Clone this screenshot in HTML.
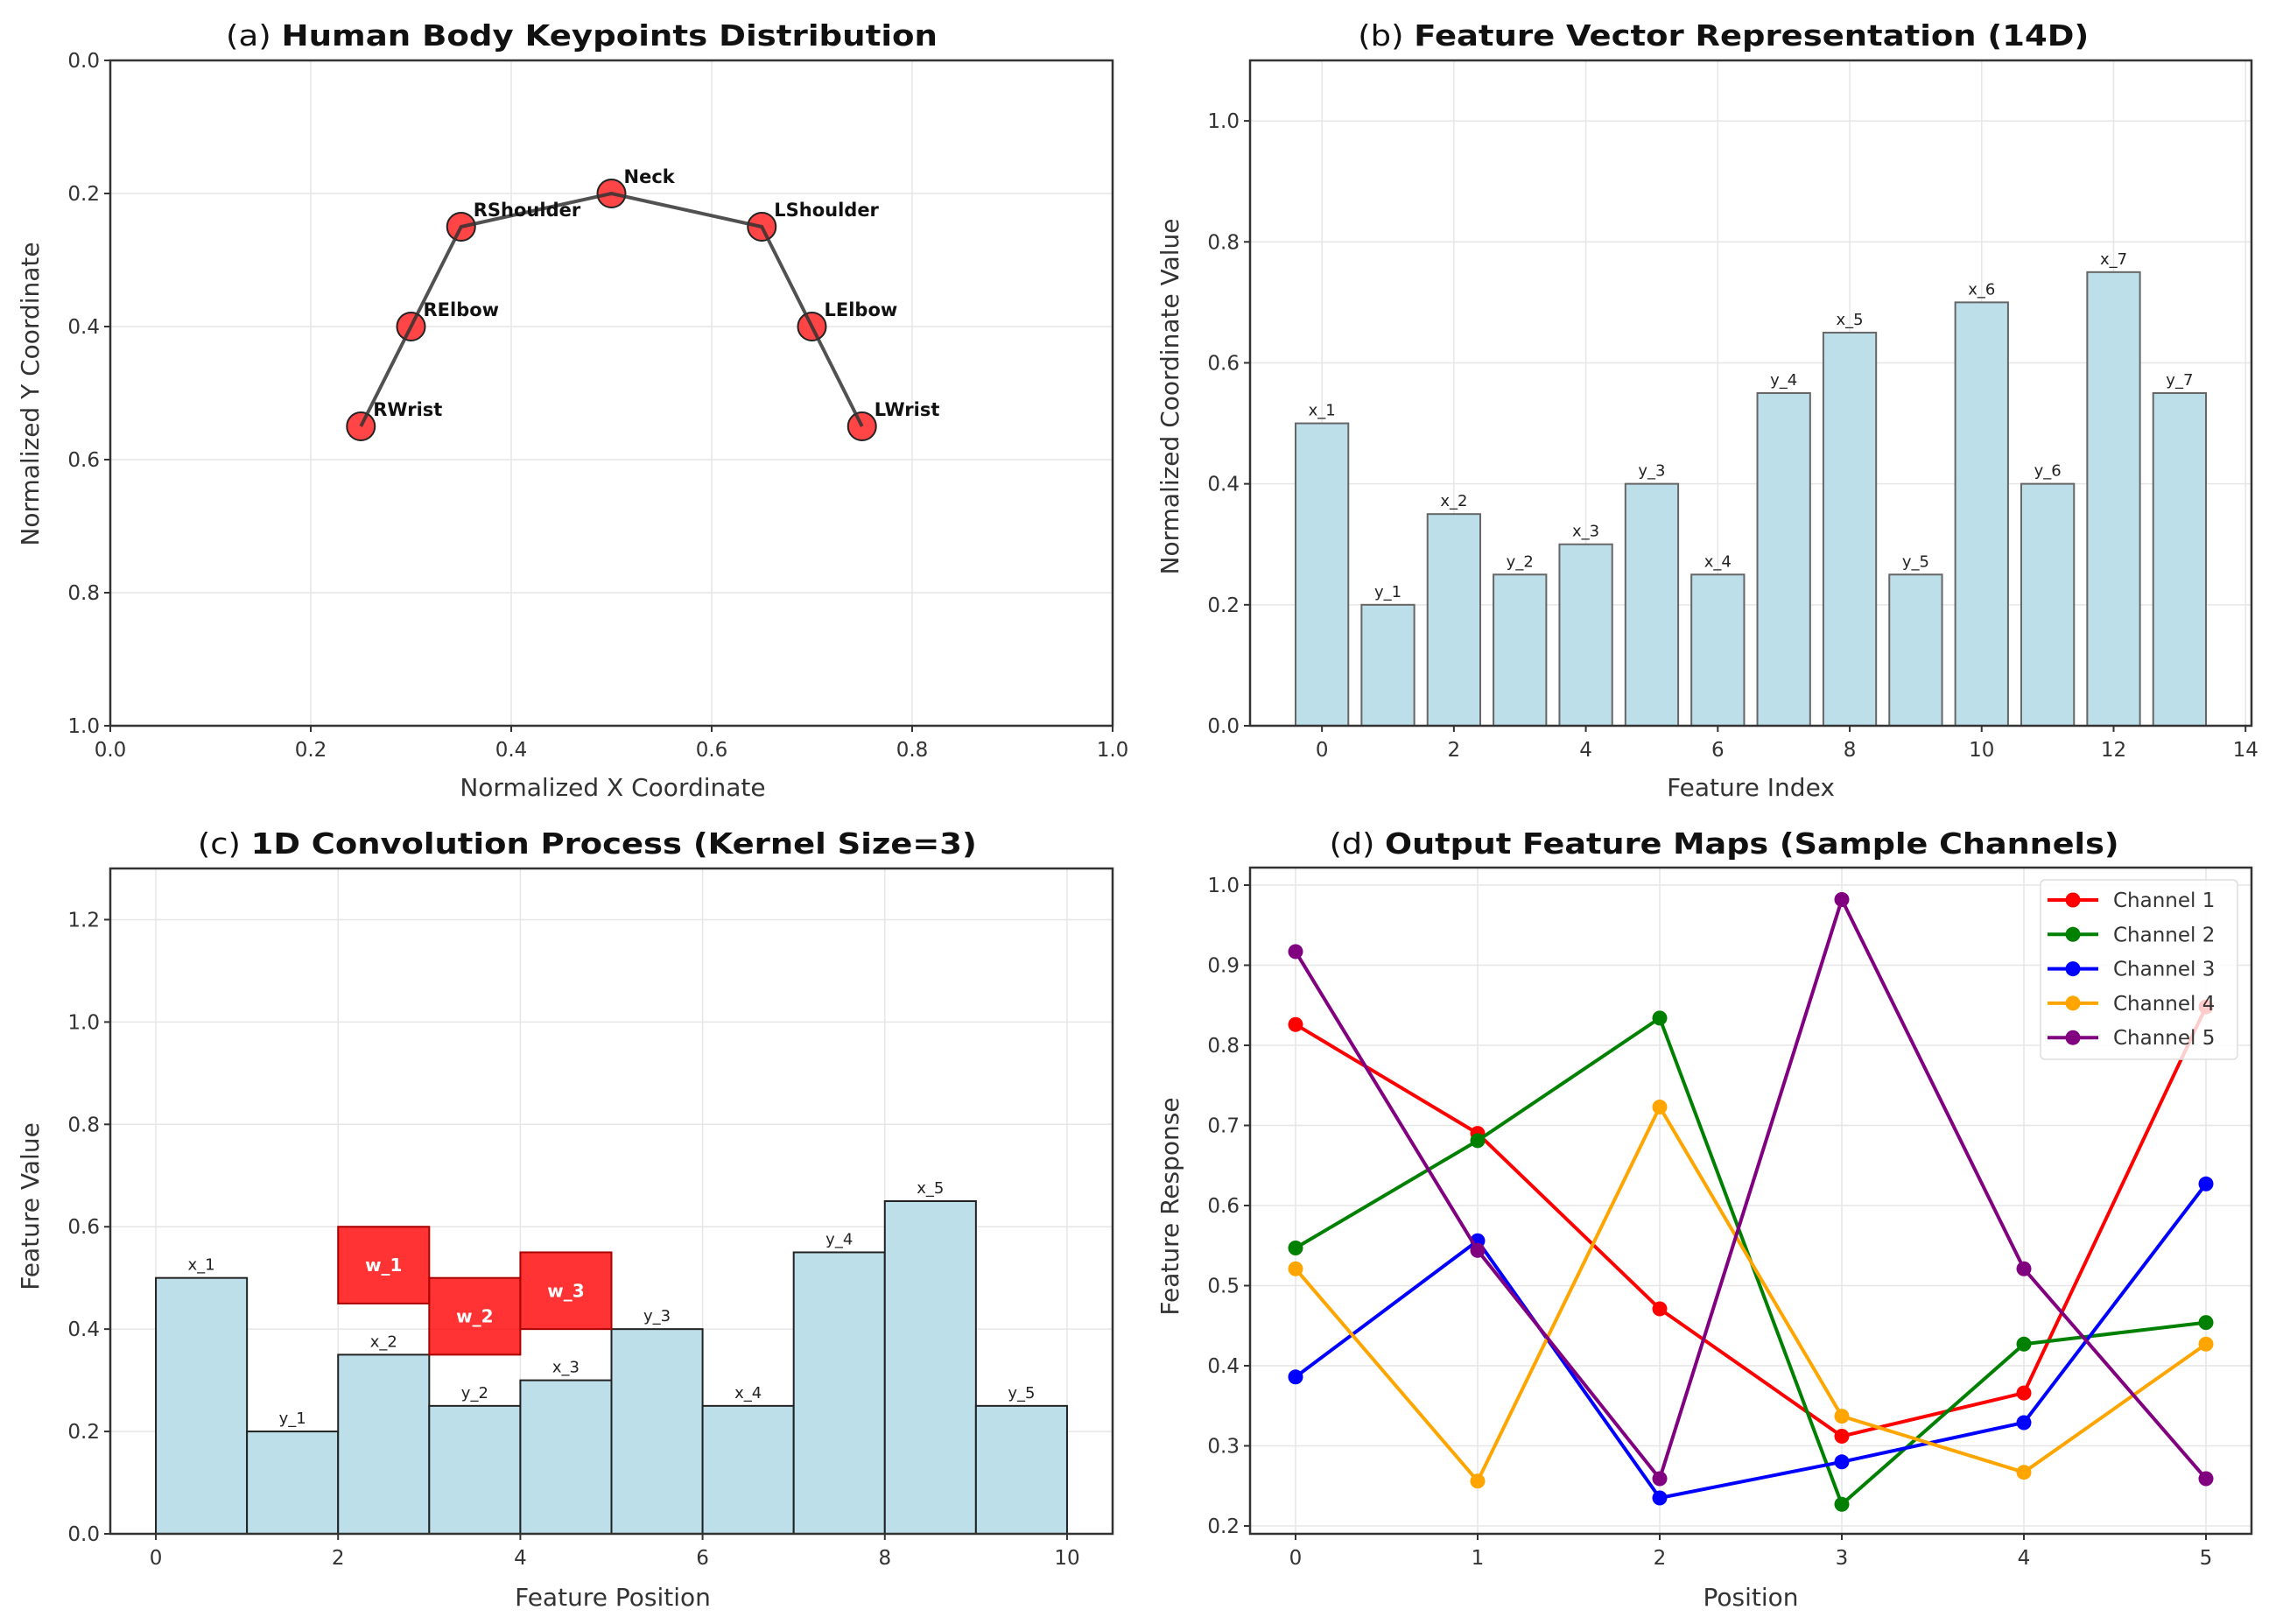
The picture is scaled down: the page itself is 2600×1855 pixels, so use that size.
<!DOCTYPE html>
<html><head><meta charset="utf-8"><style>
html,body{margin:0;padding:0;background:#fff;}
svg{display:block;font-family:"DejaVu Sans","Liberation Sans",sans-serif;}
</style></head><body>
<svg id="fig" width="2600" height="1855" viewBox="0 0 2600 1855" xmlns="http://www.w3.org/2000/svg"></svg>
<script>
// ---- Panel (a) data ----
const kpNames = ["RWrist","RElbow","RShoulder","Neck","LShoulder","LElbow","LWrist"];
const kpX = [0.25,0.3,0.35,0.5,0.65,0.7,0.75];
const kpY = [0.55,0.4,0.25,0.2,0.25,0.4,0.55];
const aTicks = [0,0.2,0.4,0.6,0.8,1.0];
// ---- Panel (b) data ----
const featLabels = ["x_1","y_1","x_2","y_2","x_3","y_3","x_4","y_4","x_5","y_5","x_6","y_6","x_7","y_7"];
const featValues = [0.5,0.2,0.35,0.25,0.3,0.4,0.25,0.55,0.65,0.25,0.7,0.4,0.75,0.55];
const bXTicks = [0,2,4,6,8,10,12,14];
const bYTicks = [0,0.2,0.4,0.6,0.8,1.0];
// ---- Panel (c) data ----
const convLabels = ["x_1","y_1","x_2","y_2","x_3","y_3","x_4","y_4","x_5","y_5"];
const convValues = [0.5,0.2,0.35,0.25,0.3,0.4,0.25,0.55,0.65,0.25];
const kernelLabels = ["w_1","w_2","w_3"];
const kernelPos = [2,3,4];
const kernelBottom = [0.45,0.35,0.4];
const kernelTop = [0.6,0.5,0.55];
const cXTicks = [0,2,4,6,8,10];
const cYTicks = [0,0.2,0.4,0.6,0.8,1.0,1.2];
// ---- Panel (d) data ----
const positions = [0,1,2,3,4,5];
const ch1 = [0.826,0.690,0.471,0.312,0.366,0.848];
const ch2 = [0.547,0.681,0.834,0.227,0.427,0.454];
const ch3 = [0.386,0.556,0.235,0.280,0.329,0.627];
const ch4 = [0.521,0.256,0.723,0.337,0.267,0.427];
const ch5 = [0.917,0.544,0.259,0.982,0.521,0.259];
const channelNames = ["Channel 1","Channel 2","Channel 3","Channel 4","Channel 5"];
const dYTicks = [0.2,0.3,0.4,0.5,0.6,0.7,0.8,0.9,1.0];

const NS="http://www.w3.org/2000/svg";
const svg=document.getElementById('fig');
function mk(tag,attrs,parent){const e=document.createElementNS(NS,tag);for(const k in attrs)e.setAttribute(k,attrs[k]);(parent||svg).appendChild(e);return e;}
function txt(s,attrs,parent){const e=mk('text',attrs,parent);e.textContent=s;return e;}
function fmt(v,d){return v.toFixed(d);}
function lin(d0,d1,r0,r1){return v=>r0+(v-d0)/(d1-d0)*(r1-r0);}

function axesFrame(g,L,R,T,B,name){
  const r=mk('rect',{x:L,y:T,width:R-L,height:B-T,fill:'none',stroke:'#333',"stroke-width":2.5},g);
  
  
}
function xTicks(g,ticks,sx,B,dec,gridT,name){
  ticks.forEach(t=>{
    const x=sx(t);
    const gl=mk('line',{x1:x,x2:x,y1:gridT,y2:B,stroke:'#e6e6e6',"stroke-width":1.5},g);
    
    
    mk('line',{x1:x,x2:x,y1:B,y2:B+7,stroke:'#333',"stroke-width":2},g);
    const tl=txt(fmt(t,dec),{x:x,y:B+35,"font-size":23,"text-anchor":"middle",fill:'#333'},g);
    
    
  });
}
function yTicks(g,ticks,sy,L,R,dec,name){
  ticks.forEach(t=>{
    const y=sy(t);
    const gl=mk('line',{x1:L,x2:R,y1:y,y2:y,stroke:'#e6e6e6',"stroke-width":1.5},g);
    
    
    mk('line',{x1:L-7,x2:L,y1:y,y2:y,stroke:'#333',"stroke-width":2},g);
    const tl=txt(fmt(t,dec),{x:L-12,y:y+8,"font-size":23,"text-anchor":"end",fill:'#333'},g);
    
    
  });
}
function title(g,pre,main,cx,y,len,name){
  const t=mk('text',{x:cx,y:y,"font-size":33,"text-anchor":"middle",fill:'#111',textLength:len,lengthAdjust:'spacingAndGlyphs'},g);
  const s1=mk('tspan',{},t);s1.textContent=pre+' ';
  const s2=mk('tspan',{"font-weight":"bold"},t);s2.textContent=main;
  
  
}
function xLabel(g,s,cx,y,name){
  const t=txt(s,{x:cx,y:y,"font-size":28,"text-anchor":"middle",fill:'#333'},g);
  
  
}
function yLabel(g,s,x,cy,name){
  const t=txt(s,{x:0,y:0,"font-size":28,"text-anchor":"middle",fill:'#333',transform:`translate(${x},${cy}) rotate(-90)`},g);
  
  
}

// ===== Panel (a) =====
(function(){
  const g=mk('g',{});
  
  
  const L=126,R=1271,T=69,B=829;
  const sx=lin(0,1,L,R), sy=lin(0,1,T,B);
  xTicks(g,aTicks,sx,B,1,T,'keypoints');
  yTicks(g,aTicks,sy,L,R,1,'keypoints');
  kpX.forEach((x,i)=>{
    const c=mk('circle',{cx:sx(x),cy:sy(kpY[i]),r:16,fill:'#ff3b3b',stroke:'#222',"stroke-width":2,"fill-opacity":0.95},g);
    
    
  });
  const pts=kpX.map((x,i)=>sx(x)+','+sy(kpY[i])).join(' ');
  const pl=mk('polyline',{points:pts,fill:'none',stroke:'#333',"stroke-width":4,"stroke-opacity":0.85},g);
  
  
  kpX.forEach((x,i)=>{
    const t=txt(kpNames[i],{x:sx(x)+14,y:sy(kpY[i])-12,"font-size":21,"font-weight":"bold",fill:'#111'},g);
    
    
  });
  axesFrame(g,L,R,T,B,'keypoints');
  title(g,'(a)','Human Body Keypoints Distribution',(258+1071)/2,52,813,'keypoints');
  xLabel(g,'Normalized X Coordinate',700,909,'keypoints');
  yLabel(g,'Normalized Y Coordinate',44,450,'keypoints');
})();

// ===== Panel (b) =====
(function(){
  const g=mk('g',{});
  
  
  const L=1428,R=2572,T=69,B=829;
  const sx=lin(-1.09,14.09,L,R), sy=lin(0,1.1,B,T);
  xTicks(g,bXTicks,sx,B,0,T,'feature-vector');
  yTicks(g,bYTicks,sy,L,R,1,'feature-vector');
  featValues.forEach((v,i)=>{
    const x0=sx(i-0.4),x1=sx(i+0.4);
    const r=mk('rect',{x:x0,y:sy(v),width:x1-x0,height:sy(0)-sy(v),fill:'#bcdfea',stroke:'#666',"stroke-width":2},g);
    
    
    const t=txt(featLabels[i],{x:sx(i),y:sy(v)-9,"font-size":18,"text-anchor":"middle",fill:'#222'},g);
    
    
  });
  axesFrame(g,L,R,T,B,'feature-vector');
  title(g,'(b)','Feature Vector Representation (14D)',1300+(300+1305)/2.4,52,835,'feature-vector');
  xLabel(g,'Feature Index',2000,909,'feature-vector');
  yLabel(g,'Normalized Coordinate Value',1346,453,'feature-vector');
})();

// ===== Panel (c) =====
(function(){
  const g=mk('g',{});
  
  
  const L=126,R=1271,T=992,B=1752;
  const sx=lin(-0.5,10.5,L,R), sy=lin(0,1.3,B,T);
  xTicks(g,cXTicks,sx,B,0,T,'convolution');
  yTicks(g,cYTicks,sy,L,R,1,'convolution');
  convValues.forEach((v,i)=>{
    const x0=sx(i),x1=sx(i+1);
    const r=mk('rect',{x:x0,y:sy(v),width:x1-x0,height:sy(0)-sy(v),fill:'#bcdfea',stroke:'#222',"stroke-width":2},g);
    
    
    const t=txt(convLabels[i],{x:sx(i+0.5),y:sy(v)-9,"font-size":18,"text-anchor":"middle",fill:'#222'},g);
    
    
  });
  kernelPos.forEach((p,i)=>{
    const x0=sx(p),x1=sx(p+1);
    const r=mk('rect',{x:x0,y:sy(kernelTop[i]),width:x1-x0,height:sy(kernelBottom[i])-sy(kernelTop[i]),fill:'#ff0000',"fill-opacity":0.8,stroke:'#aa0000',"stroke-width":2},g);
    
    
    const t=txt(kernelLabels[i],{x:sx(p+0.5),y:sy((kernelTop[i]+kernelBottom[i])/2)+7,"font-size":20,"font-weight":"bold","text-anchor":"middle",fill:'#fff'},g);
    
    
  });
  axesFrame(g,L,R,T,B,'convolution');
  title(g,'(c)','1D Convolution Process (Kernel Size=3)',(275+1335)/2.4,975,890,'convolution');
  xLabel(g,'Feature Position',700,1834,'convolution');
  yLabel(g,'Feature Value',44,1378,'convolution');
})();

// ===== Panel (d) =====
(function(){
  const g=mk('g',{});
  
  
  const L=1428,R=2572,T=991,B=1752;
  const sx=lin(-0.25,5.25,L,R), sy=lin(0.2,1.0,1743,1011);
  xTicks(g,positions,sx,B,0,T,'feature-maps');
  yTicks(g,dYTicks,sy,L,R,1,'feature-maps');
  const series=[ch1,ch2,ch3,ch4,ch5];
  const colors=['#ff0000','#008000','#0000ff','#ffa500','#800080'];
  series.forEach((s,k)=>{
    const pts=positions.map((p,i)=>sx(p)+','+sy(s[i])).join(' ');
    const pl=mk('polyline',{points:pts,fill:'none',stroke:colors[k],"stroke-width":4,"stroke-linejoin":"round"},g);
    
    
    s.forEach((v,i)=>{
      const c=mk('circle',{cx:sx(positions[i]),cy:sy(v),r:8.5,fill:colors[k]},g);
      
      
    });
  });
  const lg=mk('g',{},g);
  
  
  mk('rect',{x:2331,y:1005,width:225,height:205,rx:5,fill:'#fff',"fill-opacity":0.8,stroke:'#ddd',"stroke-width":1.5},lg);
  channelNames.forEach((n,k)=>{
    const y=1028+k*39.3;
    const e=mk('g',{},lg);
    
    
    mk('line',{x1:2339,x2:2397,y1:y,y2:y,stroke:colors[k],"stroke-width":4},e);
    mk('circle',{cx:2368,cy:y,r:8.5,fill:colors[k]},e);
    txt(n,{x:2414,y:y+8,"font-size":23,fill:'#333'},e);
  });
  axesFrame(g,L,R,T,B,'feature-maps');
  title(g,'(d)','Output Feature Maps (Sample Channels)',1300+(262+1345)/2.4,975,902,'feature-maps');
  xLabel(g,'Position',2000,1834,'feature-maps');
  yLabel(g,'Feature Response',1346,1378,'feature-maps');
})();
</script>
</body></html>
